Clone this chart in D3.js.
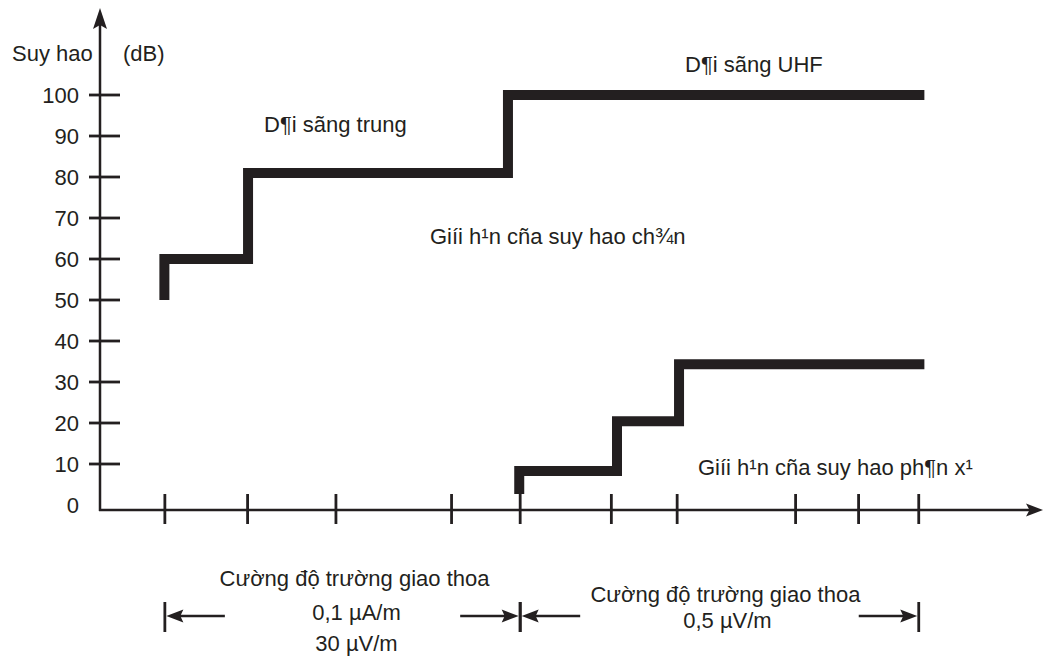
<!DOCTYPE html>
<html>
<head>
<meta charset="utf-8">
<script src="https://cdn.jsdelivr.net/npm/d3@7"></script>
<style>
  html, body { margin: 0; padding: 0; background: #fff; }
  svg { display: block; }
  text { font-family: "Liberation Sans", Arial, sans-serif; font-size: 22px; fill: #231f20; }
</style>
</head>
<body>
<svg id="chart" width="1044" height="660"></svg>
<script>
// Attenuation limits (dB) against interference field position
const yTickValues = [10, 20, 30, 40, 50, 60, 70, 80, 90, 100];
const yLabelValues = [0, 10, 20, 30, 40, 50, 60, 70, 80, 90, 100];
const xTickValues = [6.9, 15.7, 25.1, 37.4, 44.7, 54.4, 61.4, 74.0, 80.7, 87.1];

// Shielding attenuation limit (medium wave -> UHF)
const upperX = [6.85, 6.85, 15.75, 43.4, 87.7];
const upperY = [50, 60, 81, 100, 100];

// Reflection attenuation limit
const lowerX = [44.6, 44.6, 55.0, 61.6, 87.7];
const lowerY = [2.7, 8.3, 20.4, 34.3, 34.3];

// Interference-field spans along the axis
const spanStart = [6.9, 44.7];
const spanEnd = [44.7, 87.1];
const spanTitles = ["Cường độ trường giao thoa", "Cường độ trường giao thoa"];
const spanValues = [["0,1 µA/m", "30 µV/m"], ["0,5 µV/m"]];

const ink = "#231f20";
const svg = d3.select("#chart");

const x = d3.scaleLinear().domain([0, 100]).range([100, 1040]);
const y = d3.scaleLinear().domain([0, 100]).range([505, 95]);
const axisY = 510;

// Notched arrowhead pointing in direction (dx, dy) with its tip at (tx, ty)
function arrowHead(tx, ty, dx, dy, len, half, notch) {
  const px = -dy, py = dx;
  const bx = tx - dx * len, by = ty - dy * len;
  const nx = tx - dx * (len - notch), ny = ty - dy * (len - notch);
  return `M${tx},${ty}L${bx + px * half},${by + py * half}L${nx},${ny}L${bx - px * half},${by - py * half}Z`;
}

// Axes
svg.append("line").attr("x1", x(0)).attr("x2", x(0)).attr("y1", axisY + 1).attr("y2", 22)
  .attr("stroke", ink).attr("stroke-width", 2.5);
svg.append("path").attr("d", arrowHead(x(0), 8, 0, -1, 21, 7, 4)).attr("fill", ink);
svg.append("line").attr("x1", x(0) - 1).attr("x2", 1030).attr("y1", axisY).attr("y2", axisY)
  .attr("stroke", ink).attr("stroke-width", 2.5);
svg.append("path").attr("d", arrowHead(1043, axisY, 1, 0, 17, 6.5, 3.5)).attr("fill", ink);

// Y ticks and labels
svg.append("g").selectAll("line").data(yTickValues).join("line")
  .attr("x1", x(0) - 11).attr("x2", x(0) + 20)
  .attr("y1", d => y(d)).attr("y2", d => y(d))
  .attr("stroke", ink).attr("stroke-width", 2.8);
svg.append("g").selectAll("text").data(yLabelValues).join("text")
  .attr("x", 79).attr("y", d => y(d) + 8)
  .attr("text-anchor", "end").text(d => d);

// X ticks
svg.append("g").selectAll("line").data(xTickValues).join("line")
  .attr("x1", d => x(d)).attr("x2", d => x(d))
  .attr("y1", axisY - 16).attr("y2", axisY + 14)
  .attr("stroke", ink).attr("stroke-width", 2.8);

// Axis titles
svg.append("text").attr("x", 12).attr("y", 61).text("Suy hao");
svg.append("text").attr("x", 123).attr("y", 61).text("(dB)");

// Step curves
const step = d3.line().x(d => x(d[0])).y(d => y(d[1])).curve(d3.curveStepAfter);
[[upperX, upperY], [lowerX, lowerY]].forEach(([xs, ys]) => {
  svg.append("path")
    .attr("d", step(xs.map((v, i) => [v, ys[i]])))
    .attr("fill", "none").attr("stroke", ink).attr("stroke-width", 10)
    .attr("stroke-linejoin", "miter").attr("stroke-linecap", "butt");
});

// Region labels
svg.append("text").attr("x", 264).attr("y", 132).text("D¶i sãng trung");
svg.append("text").attr("x", 685).attr("y", 72).text("D¶i sãng UHF");
svg.append("text").attr("x", 430).attr("y", 244).text("Giíi h¹n cña suy hao ch¾n");
svg.append("text").attr("x", 698).attr("y", 475).text("Giíi h¹n cña suy hao ph¶n x¹");

// Span markers below the axis
const shaft = 60;
const titleY = [586, 602];
const valueY = [[620, 651], [628]];
const textShift = [12, 6];
spanStart.forEach((s, i) => {
  const x0 = x(s), x1 = x(spanEnd[i]), cy = 616;
  [x0, x1].forEach(bx => {
    svg.append("line").attr("x1", bx).attr("x2", bx).attr("y1", cy - 14).attr("y2", cy + 16)
      .attr("stroke", ink).attr("stroke-width", 2.8);
  });
  svg.append("line").attr("x1", x0 + 10).attr("x2", x0 + shaft).attr("y1", cy).attr("y2", cy)
    .attr("stroke", ink).attr("stroke-width", 2.5);
  svg.append("path").attr("d", arrowHead(x0 + 1.5, cy, -1, 0, 17, 6.5, 3)).attr("fill", ink);
  svg.append("line").attr("x1", x1 - shaft).attr("x2", x1 - 10).attr("y1", cy).attr("y2", cy)
    .attr("stroke", ink).attr("stroke-width", 2.5);
  svg.append("path").attr("d", arrowHead(x1 - 1.5, cy, 1, 0, 17, 6.5, 3)).attr("fill", ink);
  const cx = (x0 + x1) / 2 + textShift[i];
  svg.append("text").attr("x", cx).attr("y", titleY[i]).attr("text-anchor", "middle").text(spanTitles[i]);
  spanValues[i].forEach((t, j) => {
    svg.append("text").attr("x", cx + 2).attr("y", valueY[i][j]).attr("text-anchor", "middle").text(t);
  });
});
</script>
</body>
</html>
